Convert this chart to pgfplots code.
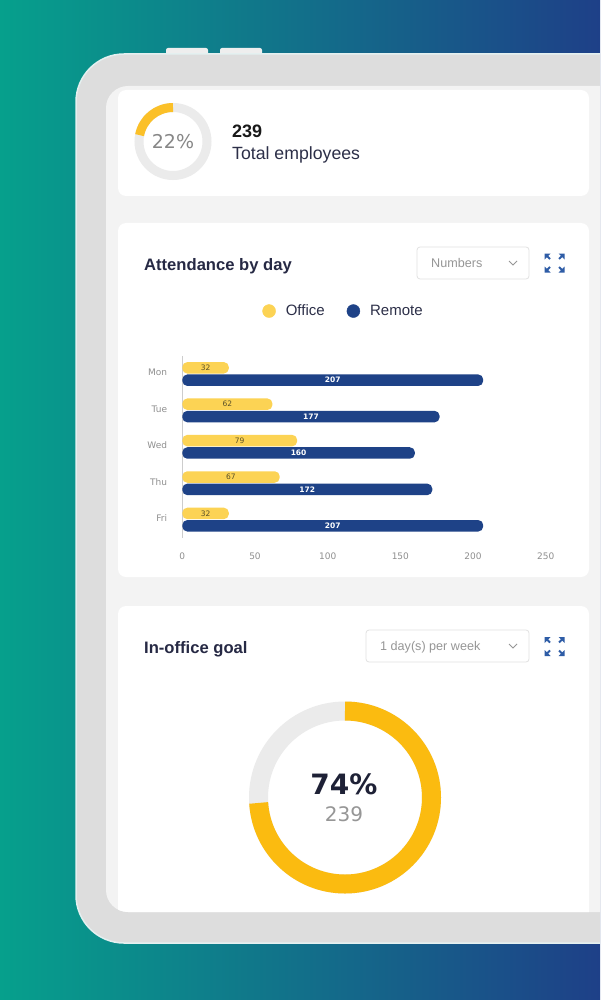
\documentclass[border=0pt]{standalone}
\usepackage{pgfplots}
\pgfplotsset{compat=1.18}
\usepackage{pgfplotstable}
\usepackage{fontspec}
\setmainfont{Liberation Sans}
\newfontfamily\uifont{Liberation Sans}
\newfontfamily\chartfont{DejaVu Sans}

\definecolor{bgTeal}{RGB}{6,160,140}
\definecolor{bgBlue}{RGB}{30,64,136}
\definecolor{frameGrey}{RGB}{221,221,221}
\definecolor{frameEdge}{RGB}{228,240,240}
\definecolor{screenGrey}{RGB}{243,243,243}
\definecolor{titleNavy}{RGB}{38,41,68}
\definecolor{textNavy}{RGB}{44,47,72}
\definecolor{officeYellow}{RGB}{252,211,84}
\definecolor{remoteBlue}{RGB}{30,66,135}
\definecolor{goalYellow}{RGB}{251,187,16}
\definecolor{smallYellow}{RGB}{251,192,40}
\definecolor{ringGrey}{RGB}{235,235,235}
\definecolor{labelGrey}{RGB}{150,150,150}
\definecolor{axisGrey}{RGB}{205,205,205}
\definecolor{boxGrey}{RGB}{226,226,226}
\definecolor{iconBlue}{RGB}{46,92,166}
\definecolor{officeText}{RGB}{90,80,40}

% attendance per weekday
\pgfplotstableread{
day office remote
Mon 32 207
Tue 62 177
Wed 79 160
Thu 67 172
Fri 32 207
}\attendance

\newcommand\totalemployees{239}
\newcommand\officeshare{22}
\newcommand\goalshare{74}

% expand icon: four arrows pointing outwards
\newcommand\expandicon[2]{%
  \foreach \sx/\sy in {-1/-1,1/-1,-1/1,1/1}{
    \fill[iconBlue] ({#1+\sx*10},{#2+\sy*9.5}) -- ++({-\sx*6},0) -- ++({\sx*6},{-\sy*6}) -- cycle;
    \draw[iconBlue, line width=1.8pt] ({#1+\sx*8},{#2+\sy*7.5}) -- ({#1+\sx*4.5},{#2+\sy*4});
  }%
}
% dropdown box with text and chevron
\newcommand\dropdown[5]{%
  \filldraw[fill=white, draw=boxGrey, line width=0.8pt, rounded corners=3pt] (#1,#2) rectangle (#3,#4);
  \node[anchor=base west, inner sep=0pt, text=labelGrey, font=\uifont\fontsize{12.6}{14}\selectfont] at ({#1+14},{(#2+#4)/2+4.5}) {#5};
  \draw[labelGrey, line width=0.9pt] ({#3-20},{(#2+#4)/2-2}) -- ({#3-16},{(#2+#4)/2+2}) -- ({#3-12},{(#2+#4)/2-2});
}

\begin{document}
\begin{tikzpicture}[x=1pt,y=-1pt]
\path[use as bounding box] (0,0) rectangle (600,1000);
\clip (0,0) rectangle (600,1000);

% backdrop
\shade[left color=bgTeal, right color=bgBlue] (0,0) rectangle (600,1000);

% tablet body
\fill[frameGrey!50!white, rounded corners=2pt] (166,48) rectangle (208,60);
\fill[frameGrey!50!white, rounded corners=2pt] (220,48) rectangle (262,60);
\filldraw[fill=frameGrey, draw=frameEdge, line width=1.5pt, rounded corners=48pt] (76,54) rectangle (720,943);
\fill[screenGrey, rounded corners=22pt] (106,86) rectangle (700,912);

\begin{scope}
\clip[rounded corners=22pt] (106,86) rectangle (700,912);
\fill[white, rounded corners=8pt] (118,90) rectangle (589,196);
\fill[white, rounded corners=8pt] (118,223) rectangle (589,577);
\fill[white, rounded corners=8pt] (118,606) rectangle (589,960);
\end{scope}

% card 1: share of employees in the office
\draw[ringGrey, line width=9pt] (173,141.5) circle (34);
\draw[smallYellow, line width=9pt] (173,141.5) ++(-90:34)
  arc[start angle=-90, delta angle=-3.6*\officeshare, radius=34];
\node[text=labelGrey!90!black, font=\chartfont\fontsize{19}{20}\selectfont, inner sep=0pt]
  at (173,142) {\officeshare\%};
\node[anchor=base west, inner sep=0pt, text=black!90, font=\uifont\bfseries\fontsize{18}{20}\selectfont]
  at (232,138) {\totalemployees};
\node[anchor=base west, inner sep=0pt, text=textNavy, font=\uifont\fontsize{17.7}{20}\selectfont]
  at (232,160) {Total employees};

% card 2: attendance by day
\node[anchor=base west, inner sep=0pt, text=titleNavy, font=\uifont\bfseries\fontsize{16.6}{19}\selectfont]
  at (144,270) {Attendance by day};
\dropdown{417}{247}{529}{279}{Numbers}
\expandicon{554.5}{263}

\begin{axis}[
  at={(182.3pt,-537.8pt)}, anchor=south west,
  scale only axis, width=363.4pt, height=182pt,
  xmin=0, xmax=250, ymin=-0.5, ymax=4.5, y dir=reverse,
  xtick={0,50,...,250}, ytick={0,...,4},
  yticklabels from table={\attendance}{day},
  axis x line*=bottom, x axis line style={draw=none},
  axis y line*=left, y axis line style={draw=axisGrey, line width=1pt, -},
  major tick length=0pt,
  /pgf/number format/assume math mode=true,
  tick label style={font=\chartfont\fontsize{9}{10}\selectfont, text=labelGrey!95!black},
  yticklabel style={inner sep=0pt, anchor=east, xshift=-15pt, yshift=1.5pt},
  xticklabel style={inner sep=0pt, anchor=center, yshift=-18pt},
  legend style={at={(axis description cs:0.4436,1.246)}, anchor=center,
    draw=none, fill=none, legend columns=2,
    font=\uifont\fontsize{15}{16}\selectfont, text=textNavy,
    /tikz/every odd column/.append style={column sep=8pt},
    /tikz/every even column/.append style={column sep=20pt}},
  legend cell align=left,
]
\addplot[xbar, bar width=11.5pt, bar shift=0pt, fill=officeYellow, draw=none,
  rounded corners=5pt, forget plot]
  table[x=office, y expr=\coordindex-0.17] {\attendance};
\addplot[xbar, bar width=11.5pt, bar shift=0pt, fill=remoteBlue, draw=none,
  rounded corners=5pt, forget plot]
  table[x=remote, y expr=\coordindex+0.17] {\attendance};
% value labels in the middle of each bar
\addplot[draw=none, mark=none, forget plot, nodes near coords, point meta=explicit symbolic,
  every node near coord/.append style={anchor=center, inner sep=0pt, text=officeText,
    font=\chartfont\fontsize{7.5}{8}\selectfont}]
  table[x expr=\thisrow{office}/2, y expr=\coordindex-0.17, meta=office] {\attendance};
\addplot[draw=none, mark=none, forget plot, nodes near coords, point meta=explicit symbolic,
  every node near coord/.append style={anchor=center, inner sep=0pt, text=white,
    font=\chartfont\bfseries\fontsize{7.5}{8}\selectfont}]
  table[x expr=\thisrow{remote}/2, y expr=\coordindex+0.17, meta=remote] {\attendance};
\addlegendimage{legend image code/.code={\fill[officeYellow] (0pt,0pt) circle (6.5pt);}}
\addlegendentry{Office}
\addlegendimage{legend image code/.code={\fill[remoteBlue] (0pt,0pt) circle (6.5pt);}}
\addlegendentry{Remote}
\end{axis}

% card 3: in-office goal
\node[anchor=base west, inner sep=0pt, text=titleNavy, font=\uifont\bfseries\fontsize{16.6}{19}\selectfont]
  at (144,653) {In-office goal};
\dropdown{366}{630}{529}{662}{1 day(s) per week}
\expandicon{554.5}{646.5}

\draw[ringGrey, line width=19pt] (345,797.5) circle (86.5);
\draw[goalYellow, line width=19pt] (345,797.5) ++(-90:86.5)
  arc[start angle=-90, delta angle=3.6*\goalshare, radius=86.5];
\node[anchor=base, inner sep=0pt, text=titleNavy!80!black, font=\chartfont\bfseries\fontsize{28}{30}\selectfont]
  at (344,794) {\goalshare\%};
\node[anchor=base, inner sep=0pt, text=labelGrey, font=\chartfont\fontsize{20}{22}\selectfont]
  at (344,821) {\totalemployees};
\end{tikzpicture}
\end{document}
